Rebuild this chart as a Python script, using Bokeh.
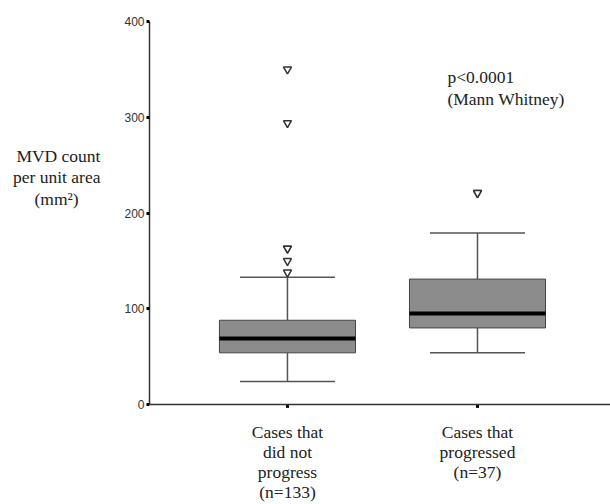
from bokeh.plotting import figure
from bokeh.models import ColumnDataSource, Range1d, FixedTicker, Label, Span
from bokeh.transform import dodge
from bokeh.embed import file_html
from bokeh.resources import INLINE

# ---- data ----
positions = [1, 2]
category_labels = ["Cases that\ndid not\nprogress\n(n=133)", "Cases that\nprogressed\n(n=37)"]
q1 = [54, 80]
median = [69, 95]
q3 = [88, 131]
lower = [24, 54]
upper = [133, 179]
outlier_x = [1, 1, 1, 1, 1, 1, 2, 2]
outlier_y = [350, 294, 163, 163, 150, 138, 221, 221]
y_ticks = [0, 100, 200, 300, 400]
y_title = "MVD count\nper unit area\n(mm²)"
stat_text = "p<0.0001\n(Mann Whitney)"

p = figure(width=610, height=504, output_backend="svg", toolbar_location=None,
           x_range=Range1d(0.274, 2.7), y_range=Range1d(-104.4, 400),
           min_border_left=149, min_border_right=0, min_border_top=21,
           min_border_bottom=0)
p.outline_line_color = None
p.xgrid.visible = False
p.ygrid.visible = False
p.background_fill_color = "white"
p.border_fill_color = "white"

src = ColumnDataSource(dict(x=positions, q1=q1, med=median, q3=q3, lo=lower, hi=upper,
                            base=[0] * len(positions), lab=category_labels))

# x axis line and category ticks
p.add_layout(Span(location=0, dimension="width", line_color="#333333", line_width=1.5))
p.segment(x0="x", y0="base", x1="x", y1=dodge("base", -3.5), source=src,
          line_color="black", line_width=3)

# whiskers
p.segment(x0="x", y0="q3", x1="x", y1="hi", source=src, line_color="#555555", line_width=1.5)
p.segment(x0="x", y0="lo", x1="x", y1="q1", source=src, line_color="#555555", line_width=1.5)
p.segment(x0=dodge("x", -0.25, range=p.x_range), y0="hi", x1=dodge("x", 0.25, range=p.x_range), y1="hi",
          source=src, line_color="#555555", line_width=1.5)
p.segment(x0=dodge("x", -0.25, range=p.x_range), y0="lo", x1=dodge("x", 0.25, range=p.x_range), y1="lo",
          source=src, line_color="#555555", line_width=1.5)
# boxes
p.vbar(x="x", bottom="q1", top="q3", width=0.716, source=src,
       fill_color="#8c8c8c", line_color="#444444", line_width=1)
# medians
p.segment(x0=dodge("x", -0.358, range=p.x_range), y0="med", x1=dodge("x", 0.358, range=p.x_range), y1="med",
          source=src, line_color="black", line_width=4)
# outliers
p.scatter(x=outlier_x, y=outlier_y, marker="inverted_triangle", size=8,
          fill_color="white", line_color="#333333", line_width=1.5)

# category labels under the x axis
p.text(x="x", y="base", text="lab", source=src, text_align="center", text_baseline="top",
       y_offset=17, text_font={"value": "Liberation Serif"}, text_font_size="17.5px",
       text_color="#222222", text_line_height=1.0)

# y axis
p.xaxis.visible = False
p.yaxis.ticker = FixedTicker(ticks=y_ticks)
p.yaxis.bounds = (0, 400)
p.yaxis.major_tick_in = 0
p.yaxis.major_tick_out = 3
p.yaxis.major_tick_line_width = 3
p.yaxis.minor_tick_line_color = None
p.yaxis.axis_line_color = "#333333"
p.yaxis.axis_line_width = 1.5
p.yaxis.major_label_text_font = "Liberation Sans"
p.yaxis.major_label_text_font_size = "12px"
p.yaxis.major_label_text_color = "#333333"
p.yaxis.major_label_standoff = 2
title_lines = y_title.split("\n")
title_lines[-1] = title_lines[-1] + "\u00a0" * 5
p.yaxis.axis_label = "\n".join(title_lines) + "\n" * 8
p.yaxis.axis_label_orientation = "horizontal"
p.yaxis.axis_label_text_font = "Liberation Serif"
p.yaxis.axis_label_text_font_size = "17.5px"
p.yaxis.axis_label_text_font_style = "normal"
p.yaxis.axis_label_text_color = "#222222"
p.yaxis.axis_label_text_line_height = 1.075
p.yaxis.axis_label_standoff = 21

plab = Label(x=1.842, y=353, text=stat_text, text_align="left",
             text_baseline="top", text_font="Liberation Serif", text_font_size="17.5px",
             text_color="#222222", text_line_height=1.1)
p.add_layout(plab)

open("out.html", "w").write(file_html(p, INLINE))
